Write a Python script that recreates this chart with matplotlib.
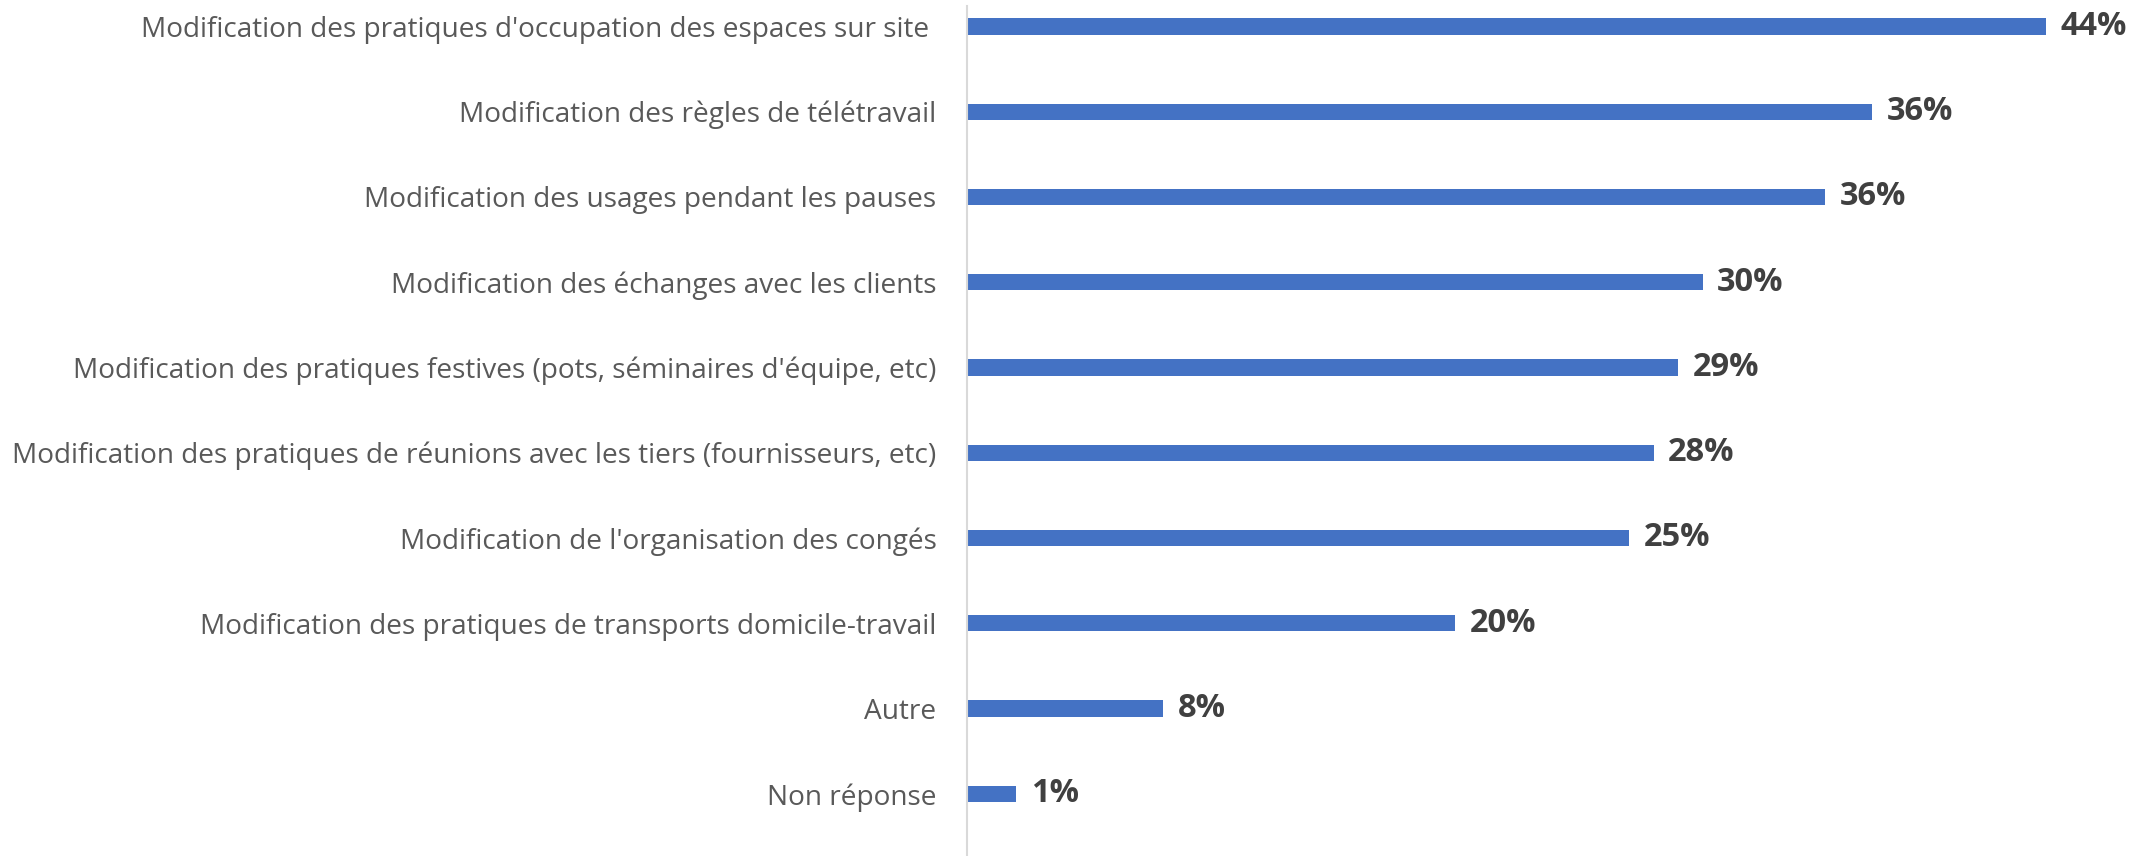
import matplotlib.pyplot as plt

# categories, top to bottom
categories = [
    "Modification des pratiques d'occupation des espaces sur site ",
    "Modification des règles de télétravail",
    "Modification des usages pendant les pauses",
    "Modification des échanges avec les clients",
    "Modification des pratiques festives (pots, séminaires d'équipe, etc)",
    "Modification des pratiques de réunions avec les tiers (fournisseurs, etc)",
    "Modification de l'organisation des congés",
    "Modification des pratiques de transports domicile-travail",
    "Autre",
    "Non réponse",
]
# bar lengths (percent)
values = [44.0, 36.9, 35.0, 30.0, 29.0, 28.0, 27.0, 19.9, 8.0, 2.0]
# data labels as printed
value_labels = ["44%", "36%", "36%", "30%", "29%", "28%", "25%", "20%", "8%", "1%"]

plt.rcParams['font.family'] = ['Open Sans', 'DejaVu Sans']

fig = plt.figure(figsize=(21.31, 8.56), dpi=100)
ax = fig.add_axes([967 / 2131, 0, 1 - 967 / 2131 - 0.01, 1 - 6 / 856])

pos = list(range(len(categories)))
ax.barh(pos, values, height=0.19, color='#4472C4')

for p, v, lab in zip(pos, values, value_labels):
    ax.annotate(lab, (v, p), xytext=(10.5, 0), textcoords='offset points',
                va='center', ha='left', fontsize=23.5, fontweight='bold', color='#404040')

ax.set_yticks(pos)
ax.set_yticklabels(categories, fontsize=20.2, color='#595959')
ax.tick_params(axis='y', length=0, pad=22)
ax.set_xticks([])
ax.set_xlim(0, 46.6)
ax.set_ylim(9.73, -0.24)

for s in ['top', 'right', 'bottom']:
    ax.spines[s].set_visible(False)
ax.spines['left'].set_color('#D9D9D9')
ax.spines['left'].set_linewidth(1.5)

fig.savefig('out.png', dpi=100)
